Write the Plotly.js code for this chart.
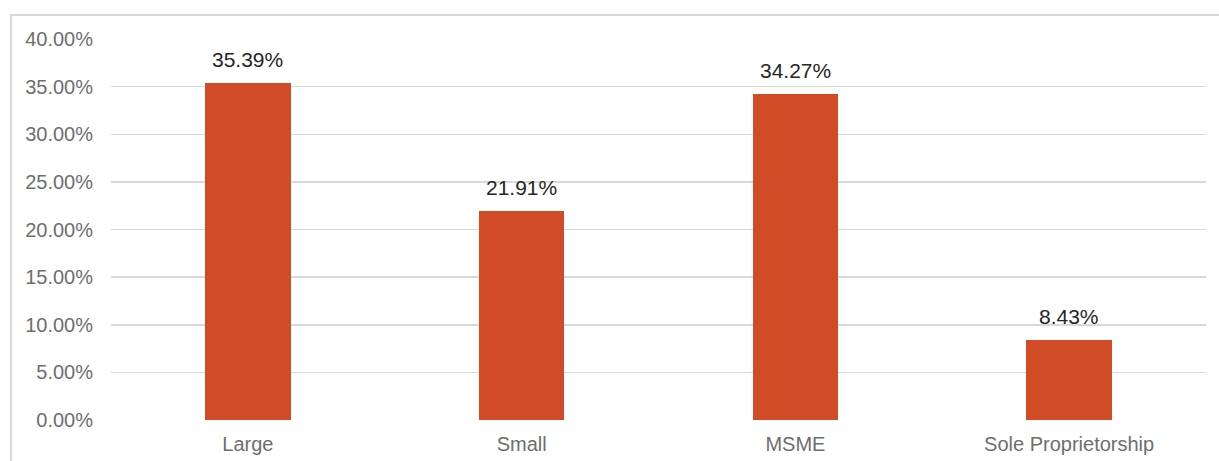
<!DOCTYPE html>
<html>
<head>
<meta charset="utf-8">
<script src="https://cdn.plot.ly/plotly-3.0.1.min.js"></script>
<style>
  html, body { margin: 0; padding: 0; background: #ffffff; }
  #wrap { position: relative; width: 1219px; height: 461px; overflow: hidden; }
  #frame {
    position: absolute; left: 10px; top: 14px; width: 1300px; height: 500px;
    border-left: 2px solid #d9d9d9; border-top: 2px solid #d9d9d9;
    box-sizing: border-box;
  }
  #chart { position: absolute; left: 0; top: 0; width: 1219px; height: 461px; }
</style>
</head>
<body>
<div id="wrap">
  <div id="frame"></div>
  <div id="chart"></div>
</div>
<script>
// Share by enterprise type (percent)
const categories = ["Large", "Small", "MSME", "Sole Proprietorship"];
const shares = [35.39, 21.91, 34.27, 8.43];
const yTickValues = [0, 5, 10, 15, 20, 25, 30, 35, 40];
const yTickLabels = ["0.00%", "5.00%", "10.00%", "15.00%", "20.00%", "25.00%", "30.00%", "35.00%", "40.00%"];

const barColor = "#d24b27";
const fontFamily = "Liberation Sans, Arial, sans-serif";

const trace = {
  type: "bar",
  x: categories,
  y: shares,
  width: 0.312,
  marker: { color: barColor },
  hoverinfo: "skip"
};

// value labels above each bar
const valueLabels = categories.map((c, i) => ({
  x: c,
  y: shares[i],
  xref: "x",
  yref: "y",
  text: shares[i].toFixed(2) + "%",
  showarrow: false,
  yanchor: "bottom",
  yshift: 10,
  font: { family: fontFamily, size: 21, color: "#262626" }
}));

const layout = {
  width: 1219,
  height: 461,
  margin: { l: 111, r: 13, t: 39, b: 41 },
  paper_bgcolor: "rgba(0,0,0,0)",
  plot_bgcolor: "rgba(0,0,0,0)",
  showlegend: false,
  bargap: 0,
  xaxis: {
    type: "category",
    showgrid: false,
    showline: false,
    zeroline: false,
    ticks: "",
    tickfont: { family: fontFamily, size: 20, color: "#6e6e6e" },
    ticklabelstandoff: 10
  },
  yaxis: {
    range: [0, 40],
    tickvals: yTickValues,
    ticktext: yTickLabels,
    showgrid: true,
    gridcolor: "#d9d9d9",
    gridwidth: 1.5,
    zeroline: false,
    showline: false,
    ticks: "",
    tickfont: { family: fontFamily, size: 20, color: "#6e6e6e" },
    ticklabelstandoff: 17
  },
  annotations: valueLabels
};

Plotly.newPlot("chart", [trace], layout, { staticPlot: true, displayModeBar: false });
</script>
</body>
</html>
